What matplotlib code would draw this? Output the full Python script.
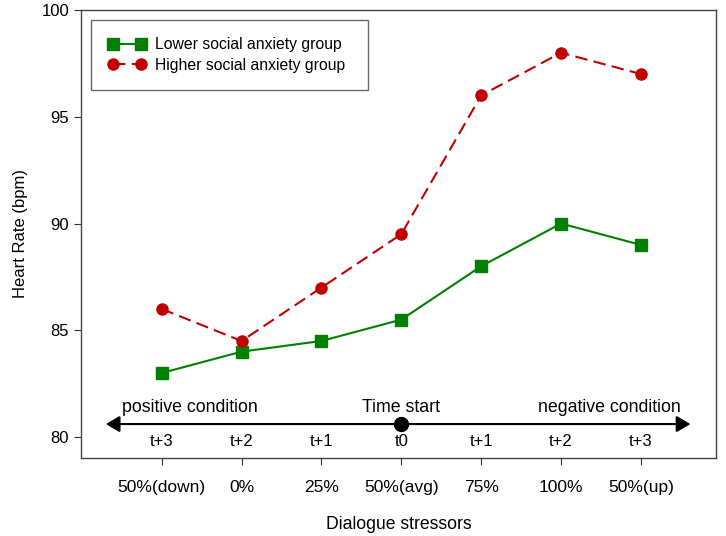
import matplotlib
matplotlib.use("Agg")
import matplotlib.pyplot as plt

plt.rcParams['font.family'] = ['Liberation Sans', 'DejaVu Sans']

categories = ["50%(down)", "0%", "25%", "50%(avg)", "75%", "100%", "50%(up)"]
time_labels = ["t+3", "t+2", "t+1", "t0", "t+1", "t+2", "t+3"]
lower = [83, 84, 84.5, 85.5, 88, 90, 89]
higher = [86, 84.5, 87, 89.5, 96, 98, 97]

fig = plt.figure(figsize=(7.26, 5.36), dpi=100)
ax = fig.add_axes([81/726, 1 - 458/536, (716-81)/726, (458-10)/536])

x = list(range(len(categories)))
ax.plot(x, lower, color='#008000', marker='s', markersize=8, linewidth=1.5,
        linestyle='-', label='Lower social anxiety group')
ax.plot(x, higher, color='#c00000', marker='o', markersize=8, linewidth=1.5,
        linestyle=(0, (6, 3)), label='Higher social anxiety group')

ax.set_xlim(-1.01, 6.94)
ax.set_ylim(79.02, 100)
ax.set_yticks([80, 85, 90, 95, 100])
ax.set_xticks(x)
ax.set_xticklabels(categories, fontsize=12.5)
ax.tick_params(axis='both', direction='out', length=5, color='#333333')
ax.tick_params(axis='y', labelsize=12)
ax.tick_params(axis='x', pad=11)
for s in ax.spines.values():
    s.set_color('#444444')
    s.set_linewidth(1.0)

ax.set_xlabel('Dialogue stressors', fontsize=12.7, labelpad=15)
ax.set_ylabel('Heart Rate (bpm)', fontsize=12, labelpad=10)

# timeline arrow
ax.annotate('', xy=(-0.70, 80.61), xytext=(6.62, 80.61),
            arrowprops=dict(arrowstyle='<|-|>,head_length=0.6,head_width=0.35',
                            color='black', lw=1.5,
                            mutation_scale=14, shrinkA=0, shrinkB=0))
ax.plot([3], [80.61], 'o', color='black', markersize=10, zorder=5)
ax.text(0.35, 81.0, 'positive condition', ha='center', va='bottom', fontsize=12.8)
ax.text(3, 81.0, 'Time start', ha='center', va='bottom', fontsize=12.8)
ax.text(5.6, 81.0, 'negative condition', ha='center', va='bottom', fontsize=12.8)
for xi, t in zip(x, time_labels):
    ax.text(xi, 79.78, t, ha='center', va='center', fontsize=12)

x0 = (91 - 81) / 635
w = (368 - 91) / 635
ytop = (458 - 20) / 448
leg = ax.legend(loc='upper left', bbox_to_anchor=(x0, ytop - 0.2, w, 0.2),
                mode='expand', borderaxespad=0, fontsize=11.3, numpoints=2,
                frameon=True, fancybox=False, edgecolor='#444444',
                handlelength=2.4, handletextpad=0.6, borderpad=1.1,
                labelspacing=0.34)
leg.get_frame().set_linewidth(1.0)

fig.savefig('out.png', dpi=100)
